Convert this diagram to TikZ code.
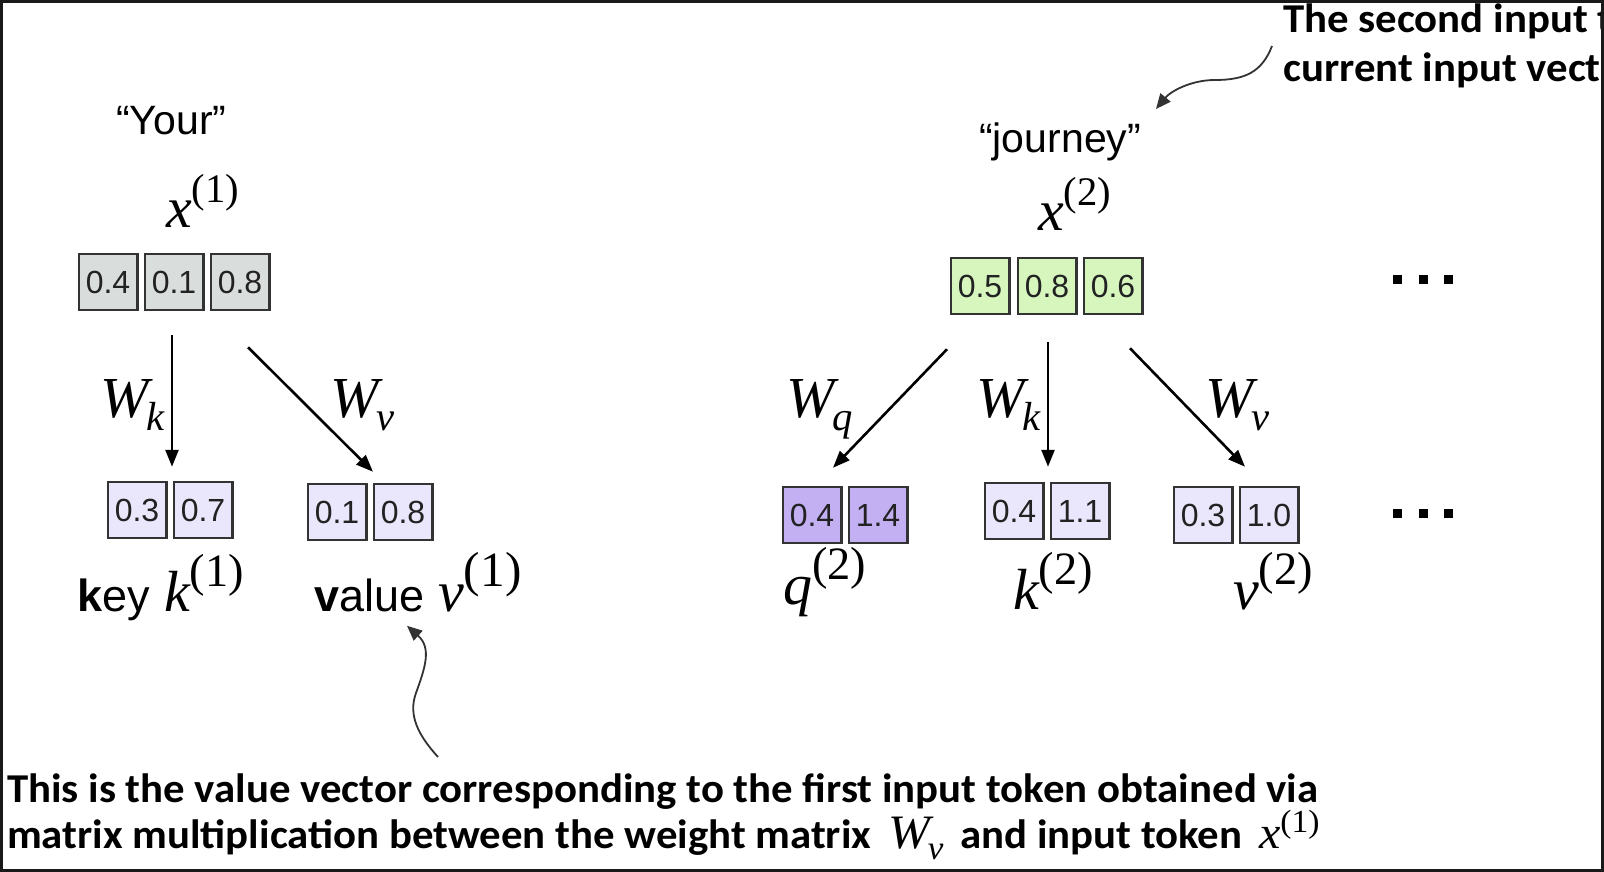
\documentclass[tikz,border=0pt]{standalone}
\usepackage{fontspec}
\usepackage{graphicx}
\setmainfont{Liberation Sans}
\newfontfamily\annfont{Carlito}
\newfontfamily\mserif{Liberation Serif}
\usetikzlibrary{arrows.meta,calc}
\definecolor{boxline}{HTML}{333333}
\definecolor{grayfill}{HTML}{D9DEDD}
\definecolor{greenfill}{HTML}{D6F6BE}
\definecolor{lpurple}{HTML}{EAE6FB}
\definecolor{dpurple}{HTML}{C2B0F2}
\definecolor{numtext}{HTML}{222222}
\definecolor{curvecol}{HTML}{333333}
\newsavebox{\annA}
\newlength{\annlen}
\newcommand{\annstyle}{\annfont\bfseries\fontsize{41}{45}\selectfont}
\newcommand{\mbig}{\fontsize{58}{62}\selectfont}
\newcommand{\lbig}{\fontsize{45}{50}\selectfont}
\newcommand{\vsup}[3][0.7]{{\mserif\mdseries\itshape #2}\raisebox{0.42em}{\scalebox{#1}{\mserif\mdseries\upshape (#3)}}}
\newcommand{\lowsup}[2]{{\mserif\mdseries\itshape #1}\raisebox{0.34em}{\scalebox{0.7}{\mserif\mdseries\upshape (#2)}}}
\newcommand{\wsub}[1]{{\mserif\mdseries\itshape W}\kern-0.04em\raisebox{-0.24em}{\scalebox{0.7}{\mserif\mdseries\itshape #1}}}
\begin{document}
\sbox{\annA}{\annstyle This is the value vector corresponding to the first input token obtained via}%
\setlength{\annlen}{\wd\annA}%
\pgfmathsetmacro{\annsx}{1311/\annlen}%
\begin{tikzpicture}[x=1pt,y=-1pt,
  vbox/.style={draw=boxline,line width=2.5pt,minimum width=58.5pt,minimum height=56pt,inner sep=0pt,font=\fontsize{32}{36}\selectfont,text=numtext},
  graybox/.style={vbox,fill=grayfill},
  greenbox/.style={vbox,fill=greenfill},
  lpbox/.style={vbox,fill=lpurple},
  dpbox/.style={vbox,fill=dpurple},
  arr/.style={line width=2.6pt,-{Triangle[length=17pt,width=13pt]}},
  carr/.style={line width=1.8pt,draw=curvecol,-{Triangle[length=15pt,width=13pt]}},
  lbl/.style={inner sep=0pt,anchor=base west},
  mlbl/.style={lbl,font=\mbig},
  tlbl/.style={lbl,font=\fontsize{41}{46}\selectfont},
  dot/.style={fill=black,minimum size=9pt,inner sep=0pt}
]
\useasboundingbox (0,0) rectangle (1604,872);
\fill[white] (0,0) rectangle (1604,872);

% input boxes
\node[graybox] (a1) at (108,282) {0.4};
\node[graybox] (a2) at (174,282) {0.1};
\node[graybox] (a3) at (240,282) {0.8};
\node[greenbox] (b1) at (980,286) {0.5};
\node[greenbox] (b2) at (1047,286) {0.8};
\node[greenbox] (b3) at (1113,286) {0.6};

% output boxes
\node[lpbox] (k1a) at (137,510) {0.3};
\node[lpbox] (k1b) at (203,510) {0.7};
\node[lpbox] (v1a) at (337,512) {0.1};
\node[lpbox] (v1b) at (403,512) {0.8};
\node[dpbox] (q2a) at (812,515) {0.4};
\node[dpbox] (q2b) at (878,515) {1.4};
\node[lpbox] (k2a) at (1014,511) {0.4};
\node[lpbox] (k2b) at (1080,511) {1.1};
\node[lpbox] (v2a) at (1203,515) {0.3};
\node[lpbox] (v2b) at (1269,515) {1.0};

% top labels
\node[tlbl] (your) at (116,135) {“Your”};
\node[tlbl] (journey) at (979,153) {“journey”};
\node[mlbl] (x1) at (166,227) {\vsup{x}{1}};
\node[mlbl] (x2) at (1038,230) {\vsup{x}{2}};

% arrows
\draw[arr] ($(a2.south)+(-2,24)$) -- ($(k1a.north)!0.5!(k1b.north)+(2,-14)$);
\draw[arr] ($(a3.south)+(8,36)$) -- ($(v1a.north)!0.5!(v1b.north)+(3,-11)$);
\draw[arr] ($(b1.south)+(-33,34)$) -- ($(q2a.north)+(21,-18)$);
\draw[arr] ($(b2.south)+(1,27)$) -- ($(k2a.north)!0.5!(k2b.north)+(1,-15)$);
\draw[arr] ($(b3.south)+(17,33)$) -- ($(v2a.north)!0.5!(v2b.north)+(9,-19)$);

% weight labels
\node[mlbl] (lwk) at (100,417) {\wsub{k}};
\node[mlbl] (lwv) at (330,417) {\wsub{v}};
\node[mlbl] (rwq) at (786,417) {\wsub{q}};
\node[mlbl] (rwk) at (976,417) {\wsub{k}};
\node[mlbl] (rwv) at (1205,417) {\wsub{v}};

% bottom labels
\node[lbl,font=\lbig] (keyt) at (77,611) {\textbf{k}ey};
\node[mlbl] (k1) at (164,611) {\vsup[0.8]{k}{1}};
\node[lbl,font=\lbig] (valt) at (314,611) {\textbf{v}alue};
\node[mlbl] (v1) at (438,611) {\vsup[0.85]{v}{1}};
\node[mlbl] (q2) at (783,604) {\vsup[0.8]{q}{2}};
\node[mlbl] (k2) at (1013,609) {\vsup[0.8]{k}{2}};
\node[mlbl] (v2) at (1233,609) {\vsup[0.8]{v}{2}};

% dots
\node[dot] (d1) at (1397,279) {};
\node[dot] (d2) at (1423,279) {};
\node[dot] (d3) at (1448,279) {};
\node[dot] (d4) at (1397,513) {};
\node[dot] (d5) at (1423,513) {};
\node[dot] (d6) at (1448,513) {};

% annotations
\node[lbl] (ann1) at (7,802) {\scalebox{\annsx}[1]{\usebox{\annA}}};
\node[lbl] (ann2) at (7,848) {\scalebox{\annsx}[1]{\annstyle matrix multiplication between the weight matrix \,{\fontsize{48}{52}\selectfont\wsub{v}}\, and input token \,{\fontsize{46}{50}\selectfont\lowsup{x}{1}}}};
\begin{scope}
\clip (0,0) rectangle (1601,872);
\node[lbl] (ann3) at (1283,33) {\scalebox{\annsx}[1]{\annstyle The second input token}};
\node[lbl] (ann4) at (1283,82) {\scalebox{\annsx}[1]{\annstyle current input vector}};
\end{scope}

% curved annotation arrows
\coordinate (bt) at (438,757);
\coordinate (btip) at ($(v1.south west)+(-31,14)$);
\draw[carr] (bt) .. controls (418,735) and (408,715) .. (416,693) .. controls (425,668) and (432,648) .. (btip);
\coordinate (tt) at (1272,46);
\coordinate (ttip) at (1156,109);
\draw[carr] (tt) .. controls (1262,72) and (1245,80) .. (1215,80) .. controls (1190,80) and (1170,92) .. (ttip);

% frame
\draw[line width=6pt,black!90] (0,0) rectangle (1604,872);
\end{tikzpicture}
\end{document}
